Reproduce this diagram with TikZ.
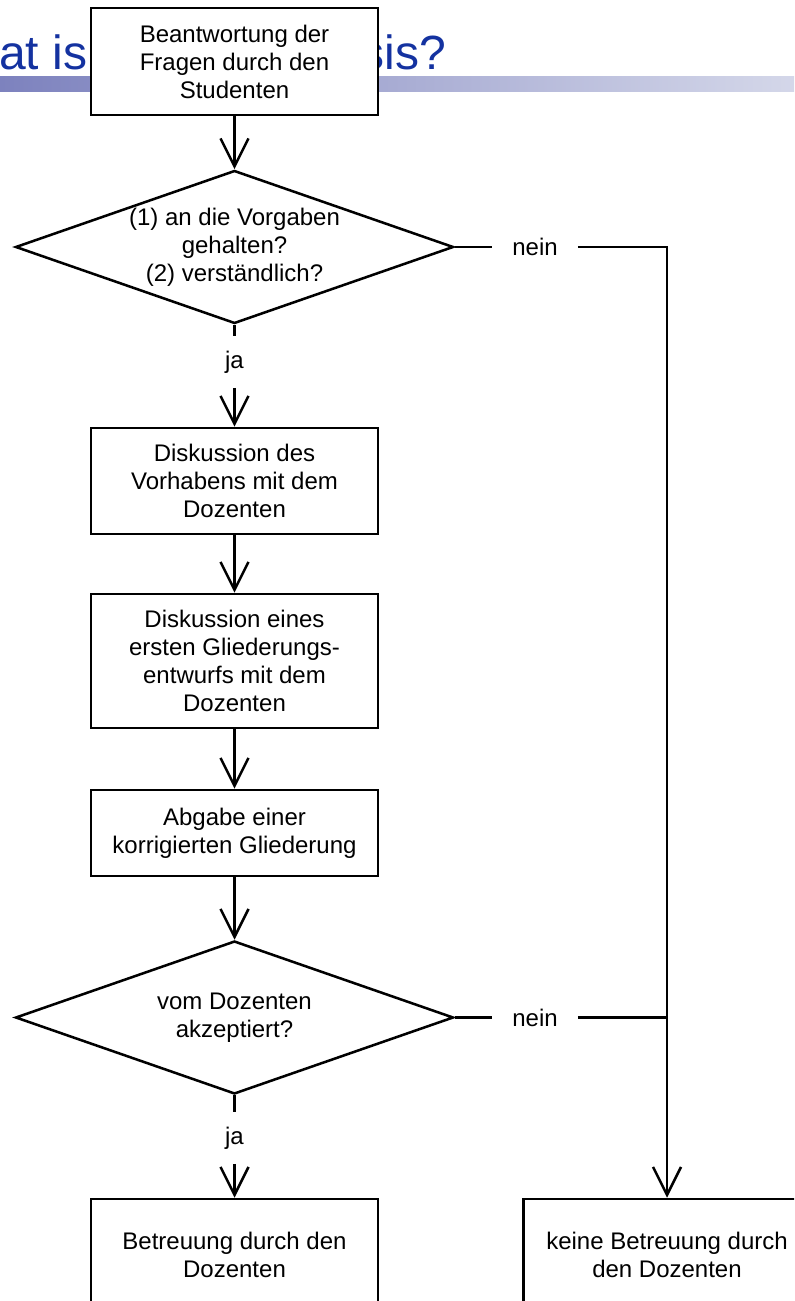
\documentclass[tikz,border=0pt]{standalone}
\usepackage{fontspec}
\setmainfont{Liberation Sans}
\usetikzlibrary{shapes.geometric, arrows.meta}
\definecolor{titelblau}{RGB}{20,50,160}
\definecolor{balkenL}{RGB}{125,130,190}
\definecolor{balkenR}{RGB}{212,215,233}
\tikzset{ schritt/.style={draw, fill=white, line width=1.9pt,
            minimum width=215.25pt, inner sep=0pt, align=center,
            font=\fontsize{18pt}{21pt}\selectfont},
        frage/.style={draw, diamond, line width=1.9pt,
            minimum width=328.5pt, minimum height=114.75pt, inner sep=0pt},
        fragetext/.style={align=center, inner sep=0pt,
            font=\fontsize{18pt}{21pt}\selectfont},
        antw/.style={inner sep=0pt, minimum width=63.75pt, minimum height=38.25pt,
            font=\fontsize{18pt}{21pt}\selectfont},
        fl/.style={line width=1.9pt, -{Straight Barb[length=21pt,width=21pt]}},
        ln/.style={line width=1.9pt} }

\begin{document}
\begin{tikzpicture}[x=0.75pt, y=-0.75pt]
\useasboundingbox (0,0) rectangle (794,1301);
\clip (0,0) rectangle (794,1301);

% slide title behind the chart
\shade[left color=balkenL, right color=balkenR] (0,77) rectangle (794,92);
\node[anchor=base west, inner sep=0pt, text=titelblau, font=\fontsize{36pt}{42pt}\selectfont]
  (titelL) at (-1,70) {at is};
\node[anchor=base east, inner sep=0pt, text=titelblau, font=\fontsize{36pt}{42pt}\selectfont]
  (titelR) at (446,70) {sis?};

\node[schritt, minimum height=80.25pt] (start) at (234.5,61.5)
  {Beantwortung der\\Fragen durch den\\Studenten};
\node[frage, label={[fragetext]center:{(1) an die Vorgaben\\gehalten?\\(2) verständlich?}}]
  (q1) at (234.5,247) {};
\node[antw] (ja1) at (234.5,362) {ja};
\node[antw] (nein1) at (535,247) {nein};
\node[schritt, minimum height=79.5pt] (vorhaben) at (234.5,481)
  {Diskussion des\\Vorhabens mit dem\\Dozenten};
\node[schritt, minimum height=100.5pt] (entwurf) at (234.5,661)
  {Diskussion eines\\ersten Gliederungs-\\entwurfs mit dem\\Dozenten};
\node[schritt, minimum height=64.5pt] (abgabe) at (234.5,833)
  {Abgabe einer\\korrigierten Gliederung};
\node[frage, label={[fragetext]center:{vom Dozenten\\akzeptiert?}}]
  (q2) at (234.5,1017.5) {};
\node[antw] (ja2) at (234.5,1138) {ja};
\node[antw] (nein2) at (535,1017.5) {nein};
\node[schritt, minimum height=84pt] (betreuung) at (234.5,1255)
  {Betreuung durch den\\Dozenten};
\node[schritt, minimum height=84pt] (keine) at (667,1255)
  {keine Betreuung durch\\den Dozenten};

\draw[fl] (start) -- (q1);
\draw[ln] (q1) -- (ja1);
\draw[fl] (ja1) -- (vorhaben);
\draw[fl] (vorhaben) -- (entwurf);
\draw[fl] (entwurf) -- (abgabe);
\draw[fl] (abgabe) -- (q2);
\draw[ln] (q2) -- (ja2);
\draw[fl] (ja2) -- (betreuung);
\draw[ln] (q1) -- (nein1);
\draw[fl] (nein1) -| (keine);
\draw[ln] (q2) -- (nein2);
\draw[ln] (nein2) -- (nein2 -| keine);

\end{tikzpicture}
\end{document}
